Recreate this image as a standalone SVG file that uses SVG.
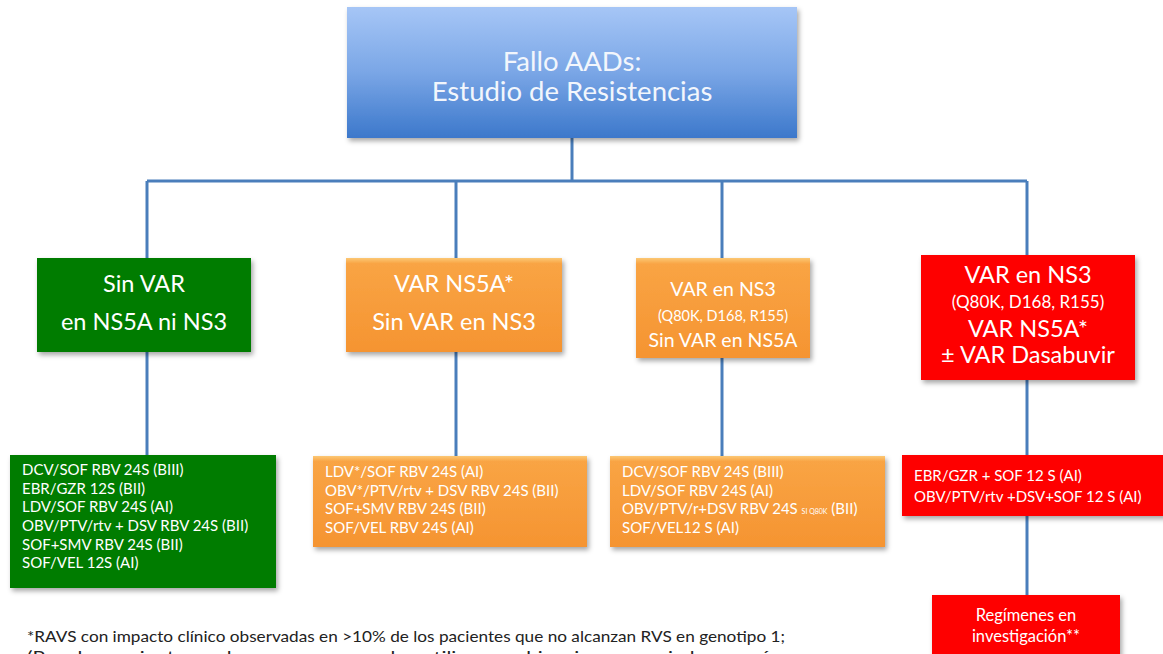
<svg xmlns="http://www.w3.org/2000/svg" width="1163" height="654" viewBox="0 0 1163 654">
<defs>
<linearGradient id="gBlue" x1="0" y1="0" x2="0" y2="1">
<stop offset="0" stop-color="#a6c6f6"/>
<stop offset="0.5" stop-color="#7aa6e6"/>
<stop offset="1" stop-color="#3c78cb"/>
</linearGradient>
<linearGradient id="gOrange" x1="0" y1="0" x2="0" y2="1">
<stop offset="0" stop-color="#fcc874"/>
<stop offset="0.06" stop-color="#f9a444"/>
<stop offset="1" stop-color="#f59431"/>
</linearGradient>
<filter id="sh" x="-10%" y="-10%" width="125%" height="135%">
<feDropShadow dx="2" dy="3" stdDeviation="2.5" flood-color="#000" flood-opacity="0.35"/>
</filter>
<style>
text{font-family:Lato,"Open Sans","Liberation Sans",sans-serif;fill:#fff}
.t26{font-size:27.5px;text-anchor:middle;fill:#f2f6fc}
.t22{font-size:23.5px;text-anchor:middle}
.t18{font-size:19.5px;text-anchor:middle}
.t14c{font-size:14.5px;text-anchor:middle}
.t17c{font-size:17px;text-anchor:middle}
.t13{font-size:15px}
.green{fill:#067c06}
.orange{fill:url(#gOrange)}
.red{fill:#fe0000}
.conn{stroke:#4a7ebb;stroke-width:3;fill:none}
.note{font-size:16px;fill:#222}
</style>
</defs>
<rect width="1163" height="654" fill="#fff"/>

<g id="connectors">
<path class="conn" d="M572 138 V181"/>
<path class="conn" d="M147 181 H1027"/>
<path class="conn" d="M147 181 V258"/>
<path class="conn" d="M456 181 V258"/>
<path class="conn" d="M722 181 V258"/>
<path class="conn" d="M1027 181 V255"/>
<path class="conn" d="M147 352 V455"/>
<path class="conn" d="M456 352 V456"/>
<path class="conn" d="M722 358 V456"/>
<path class="conn" d="M1027 380 V455"/>
<path class="conn" d="M1027 516 V595"/>
</g>

<g id="root">
<rect x="347" y="7" width="450" height="131" fill="url(#gBlue)" filter="url(#sh)"/>
<text class="t26" x="572" y="71">Fallo AADs:</text>
<text class="t26" x="572" y="101">Estudio de Resistencias</text>
</g>

<g id="n1">
<rect class="green" x="37" y="258" width="214" height="94" filter="url(#sh)"/>
<text class="t22" x="144" y="292">Sin VAR</text>
<text class="t22" x="144" y="330">en NS5A ni NS3</text>
</g>

<g id="n2">
<rect class="orange" x="346" y="258" width="216" height="94" filter="url(#sh)"/>
<text class="t22" x="454" y="292">VAR NS5A*</text>
<text class="t22" x="454" y="330">Sin VAR en NS3</text>
</g>

<g id="n3">
<rect class="orange" x="636" y="258" width="174" height="100" filter="url(#sh)"/>
<text class="t18" x="723" y="296">VAR en NS3</text>
<text class="t14c" x="723" y="321">(Q80K, D168, R155)</text>
<text class="t18" x="723" y="347">Sin VAR en NS5A</text>
</g>

<g id="n4">
<rect class="red" x="921" y="255" width="214" height="125" filter="url(#sh)"/>
<text class="t22" x="1028" y="283">VAR en NS3</text>
<text class="t17c" x="1028" y="308">(Q80K, D168, R155)</text>
<text class="t22" x="1028" y="337">VAR NS5A*</text>
<text class="t22" x="1028" y="363">± VAR Dasabuvir</text>
</g>

<g id="b1">
<rect class="green" x="10" y="455" width="266" height="133" filter="url(#sh)"/>
<text class="t13" x="22" y="475">DCV/SOF  RBV 24S (BIII)</text>
<text class="t13" x="22" y="494">EBR/GZR 12S (BII)</text>
<text class="t13" x="22" y="512">LDV/SOF RBV 24S (AI)</text>
<text class="t13" x="22" y="531">OBV/PTV/rtv + DSV RBV 24S (BII)</text>
<text class="t13" x="22" y="550">SOF+SMV  RBV 24S (BII)</text>
<text class="t13" x="22" y="568">SOF/VEL 12S (AI)</text>
</g>

<g id="b2">
<rect class="orange" x="313" y="456" width="274" height="91" filter="url(#sh)"/>
<text class="t13" x="325" y="477">LDV*/SOF RBV 24S (AI)</text>
<text class="t13" x="325" y="496">OBV*/PTV/rtv + DSV RBV 24S (BII)</text>
<text class="t13" x="325" y="514">SOF+SMV  RBV 24S (BII)</text>
<text class="t13" x="325" y="533">SOF/VEL RBV 24S (AI)</text>
</g>

<g id="b3">
<rect class="orange" x="610" y="456" width="275" height="91" filter="url(#sh)"/>
<text class="t13" x="622" y="477">DCV/SOF  RBV 24S (BIII)</text>
<text class="t13" x="622" y="496">LDV/SOF RBV 24S (AI)</text>
<text class="t13" x="622" y="514">OBV/PTV/r+DSV  RBV 24S <tspan font-size="7">SI Q80K</tspan> (BII)</text>
<text class="t13" x="622" y="533">SOF/VEL12 S (AI)</text>
</g>

<g id="b4">
<rect class="red" x="902" y="455" width="263" height="61" filter="url(#sh)"/>
<text class="t13" x="914" y="481">EBR/GZR + SOF  12 S (AI)</text>
<text class="t13" x="914" y="502">OBV/PTV/rtv +DSV+SOF  12 S (AI)</text>
</g>

<g id="b5">
<rect class="red" x="932" y="595" width="188" height="70" filter="url(#sh)"/>
<text x="1026" y="621" text-anchor="middle" font-size="16.5">Regímenes en</text>
<text x="1026" y="642" text-anchor="middle" font-size="16.5">investigación**</text>
</g>

<g id="notes">
<text class="note" x="27" y="642" textLength="758" lengthAdjust="spacingAndGlyphs">*RAVS con impacto clínico observadas en &gt;10% de los pacientes que no alcanzan RVS en genotipo 1;</text>
<text class="note" x="27" y="662" textLength="800" lengthAdjust="spacingAndGlyphs">(Para los pacientes en los que no se puedan utilizar combinaciones asociadas a regímenes</text>
</g>
</svg>
